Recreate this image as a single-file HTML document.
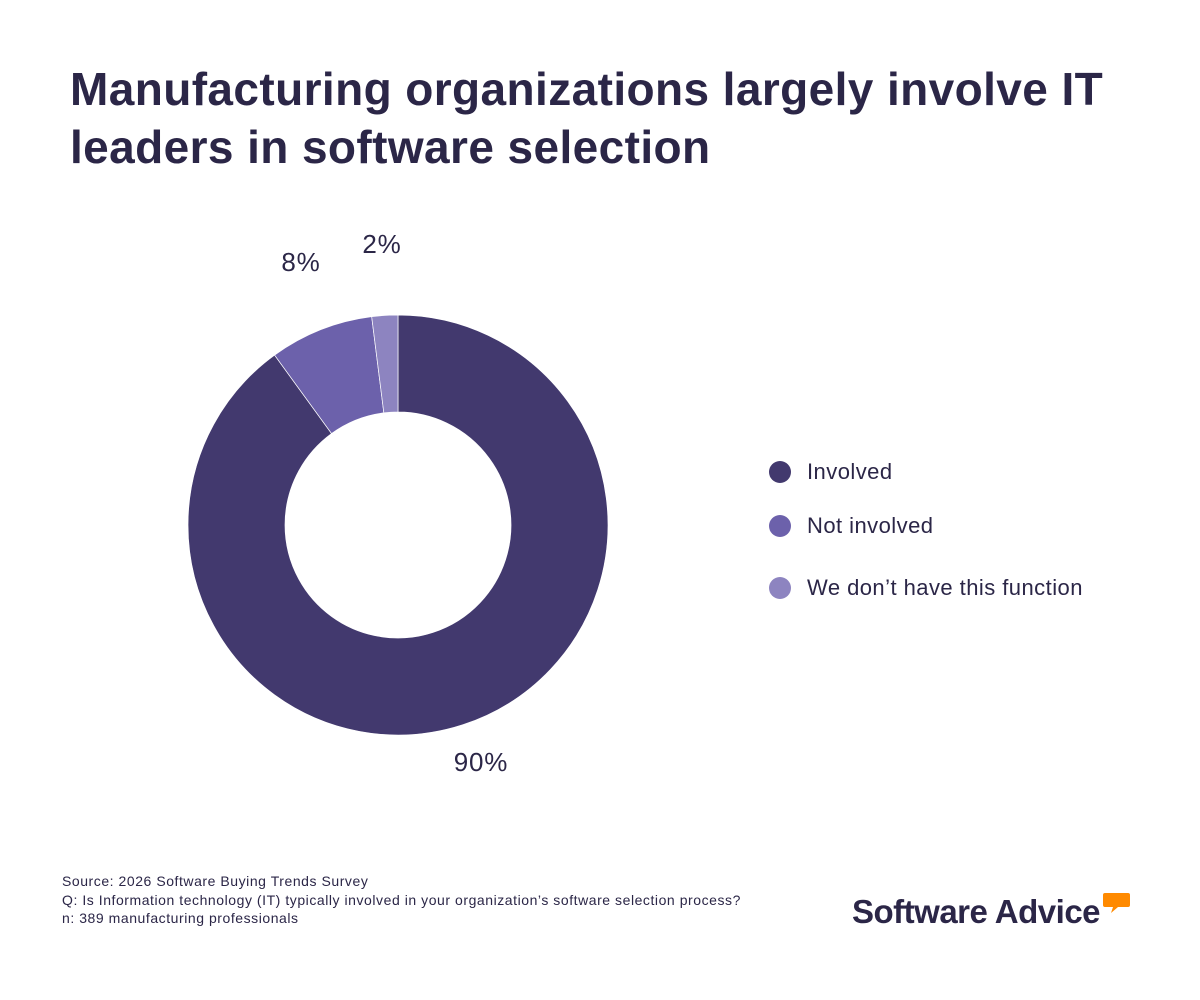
<!DOCTYPE html>
<html><head><meta charset="utf-8"><style>
body{margin:0;width:1200px;height:1000px;background:#fff;font-family:"Liberation Sans",sans-serif;color:#2b2647;position:relative;overflow:hidden}
#title{position:absolute;left:70px;top:60px;font-size:46px;font-weight:bold;line-height:58px;color:#2b2647;margin:0;width:1100px;letter-spacing:0.4px}
.leg{position:absolute;left:769px;font-size:22px;display:flex;align-items:center;letter-spacing:0.45px}
.leg i{width:22px;height:22px;border-radius:50%;display:inline-block;margin-right:16px}
#foot{position:absolute;left:62px;top:872px;font-size:14px;line-height:18.5px;letter-spacing:0.55px}
#logo{position:absolute;left:852px;top:893px;font-size:33px;font-weight:bold;color:#2b2647;letter-spacing:-0.5px}
</style></head><body>
<h1 id="title">Manufacturing organizations largely involve IT leaders in software selection</h1>
<svg id="chart" width="1200" height="1000" style="position:absolute;left:0;top:0"></svg>
<div class="leg" style="top:459px"><i style="background:#42396e"></i>Involved</div>
<div class="leg" style="top:513px"><i style="background:#6c61ab"></i>Not involved</div>
<div class="leg" style="top:575px"><i style="background:#8d84c0"></i>We don’t have this function</div>
<div id="foot">Source: 2026 Software Buying Trends Survey<br>Q: Is Information technology (IT) typically involved in your organization’s software selection process?<br>n: 389 manufacturing professionals</div>
<div id="logo">Software Advice</div>
<svg style="position:absolute;left:1103px;top:893px" width="27" height="22"><path d="M2 0h23a2 2 0 0 1 2 2v10a2 2 0 0 1-2 2H15l-7 6 2-6H2a2 2 0 0 1-2-2V2a2 2 0 0 1 2-2z" fill="#ff8a00"/></svg>
<script>
const categories=["Involved","Not involved","We don’t have this function"];
const values=[90,8,2];
const labels=["90%","8%","2%"];
const colors=["#42396e","#6c61ab","#8d84c0"];
const svg=document.getElementById('chart');
const NS="http://www.w3.org/2000/svg";
const cx=398,cy=525,R=210,r=113;
const total=values.reduce((a,b)=>a+b,0);
function pt(a,rad){return [cx+rad*Math.sin(a),cy-rad*Math.cos(a)];}
let acc=0;
const labelPos=[[481,762],[301,262],[382,244]];
values.forEach((v,i)=>{
  const a0=acc/total*2*Math.PI;acc+=v;const a1=acc/total*2*Math.PI;
  const large=(a1-a0)>Math.PI?1:0;
  const [x0,y0]=pt(a0,R),[x1,y1]=pt(a1,R),[x2,y2]=pt(a1,r),[x3,y3]=pt(a0,r);
  const p=document.createElementNS(NS,'path');
  p.setAttribute('d',`M${x0} ${y0}A${R} ${R} 0 ${large} 1 ${x1} ${y1}L${x2} ${y2}A${r} ${r} 0 ${large} 0 ${x3} ${y3}Z`);
  p.setAttribute('fill',colors[i]);p.setAttribute('stroke','#fff');p.setAttribute('stroke-width','0.7');
  
  
  svg.appendChild(p);
  const lx=labelPos[i][0],ly=labelPos[i][1];
  const t=document.createElementNS(NS,'text');
  t.setAttribute('x',lx);t.setAttribute('y',ly+9);t.setAttribute('text-anchor','middle');
  t.setAttribute('font-size','26');t.setAttribute('fill','#2b2647');t.setAttribute('font-family','Liberation Sans, sans-serif');
  t.setAttribute('letter-spacing','0.8');
  t.textContent=labels[i];
  
  
  svg.appendChild(t);
});
</script>
</body></html>
